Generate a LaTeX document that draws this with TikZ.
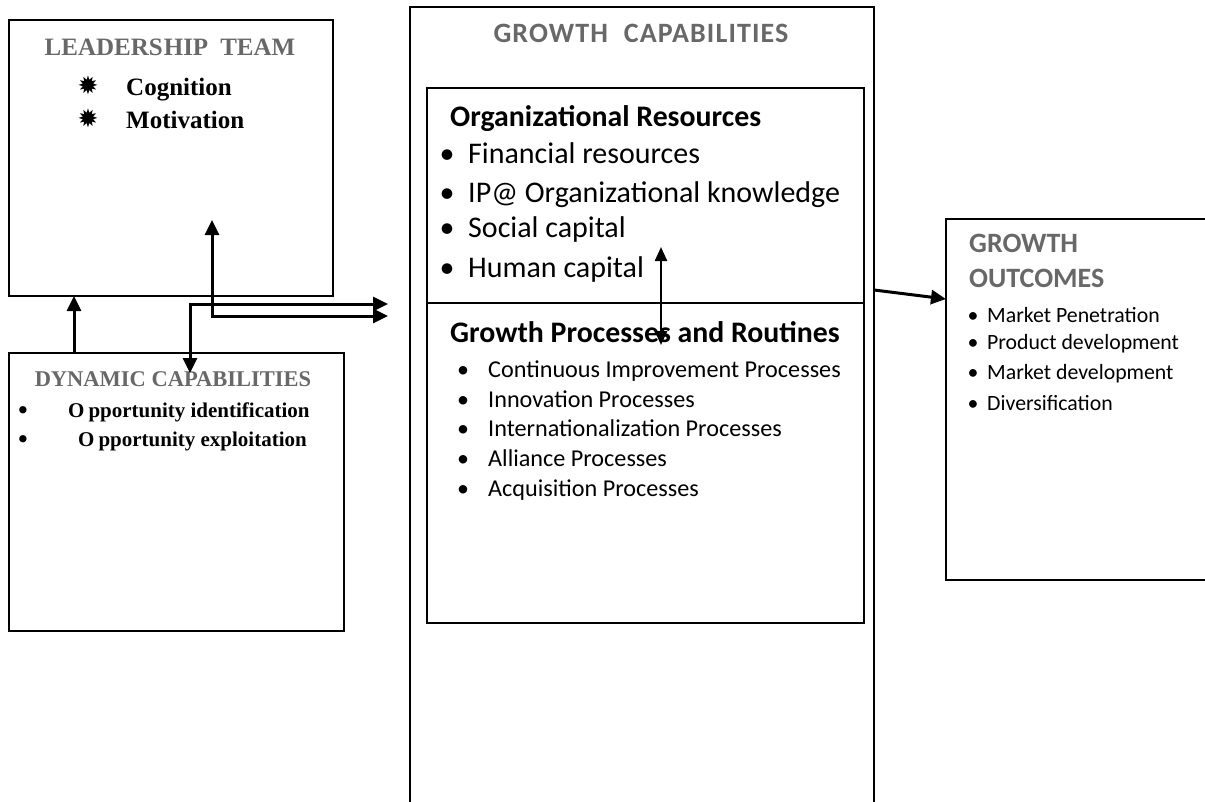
\documentclass[tikz,border=0pt]{standalone}
\usepackage{fontspec}
\usetikzlibrary{arrows.meta}
\newfontfamily\tnrfont{Liberation Serif}
\newfontfamily\calfont{Carlito}
\newfontfamily\calwide{Carlito}[LetterSpace=4]
\newfontfamily\symfont{DejaVu Sans}
\definecolor{titlegray}{RGB}{104,104,104}
\newcommand{\fsz}[1]{\fontsize{#1}{#1}\selectfont}

\tikzset{
  box/.style={draw, line width=2.6pt, anchor=north west, inner sep=0pt, outer sep=0pt},
  outerbox/.style={box, line width=2.2pt},
  txt/.style={inner sep=0pt, anchor=base west},
  ctxt/.style={inner sep=0pt, anchor=base},
  dot/.style={inner sep=0pt, anchor=center},
  serifttl/.style={ctxt, text=titlegray, font=\tnrfont\bfseries\fsz{25}},
  serifitem/.style={txt, font=\tnrfont\bfseries\fsz{25}},
  dynitem/.style={txt, font=\tnrfont\bfseries\fsz{21}},
  calttl/.style={ctxt, text=titlegray, font=\calwide\bfseries\fsz{28}},
  calhead/.style={txt, font=\calfont\bfseries\fsz{29.8}},
  resitem/.style={txt, font=\calfont\fsz{30}},
  procitem/.style={txt, font=\calfont\fsz{24.2}},
  outttl/.style={txt, text=titlegray, font=\calfont\bfseries\fsz{28}},
  outitem/.style={txt, font=\calfont\fsz{21.8}},
  arr/.style={line width=3pt, -{Triangle[length=15pt,width=14pt]}},
  dblarr/.style={line width=3pt, {Triangle[length=15pt,width=14pt]}-{Triangle[length=15pt,width=14pt]}},
  thinarr/.style={line width=2.4pt, {Triangle[length=14pt,width=12pt]}-{Triangle[length=14pt,width=12pt]}}
}

\begin{document}
\begin{tikzpicture}[x=1pt, y=-1pt]
\useasboundingbox (0,0) rectangle (1205,801);
\fill[white] (0,0) rectangle (1205,801);
\clip (0,0) rectangle (1205,801);

% ---- boxes ----
\node[box, minimum width=324pt, minimum height=276pt] (lead) at (9,20) {};
\node[box, minimum width=335pt, minimum height=278pt] (dyn) at (9,353) {};
\node[outerbox, minimum width=464pt, minimum height=830pt] (gcap) at (410,7) {};
\node[box, minimum width=437pt, minimum height=215pt] (orgres) at (427,88) {};
\node[box, minimum width=437pt, minimum height=320pt] (gproc) at (427,303) {};
\node[box, minimum width=290pt, minimum height=361pt] (gout) at (946,219) {};

% ---- leadership team ----
\node[serifttl] (leadttl) at (170,55) {LEADERS\kern1pt HIP\hspace{12pt}TEAM};
\node[dot, font=\symfont\fsz{25}] (star1) at (88,85) {✹};
\node[dot, font=\symfont\fsz{25}] (star2) at (88,118) {✹};
\node[serifitem] (cog) at (126,95) {Cognition};
\node[serifitem] (mot) at (126,128) {Motivation};

% ---- dynamic capabilities ----
\node[serifttl, font=\tnrfont\bfseries\fsz{22.5}] (dynttl) at (173,386) {DYNAMIC CAPABILITIES};
\node[ctxt, font=\symfont\fsz{25}] (db1) at (23,419) {•};
\node[ctxt, font=\symfont\fsz{25}] (db2) at (23,448) {•};
\node[dynitem] (oid) at (68,417) {O\kern4pt pportunity identification};
\node[dynitem] (oex) at (78,446) {O\kern4pt pportunity exploitation};

% ---- growth capabilities ----
\node[calttl] (gcapttl) at (641,42) {GROWTH\hspace{16pt}CAPABILITIES};
\node[calhead] (orghead) at (450,126) {Organizational Resources};
\foreach \yy/\lbl [count=\i] in {163/Financial resources, 202/IP@ Organizational knowledge, 237/Social capital, 277/Human capital}{
  \node[ctxt, font=\calfont\fsz{30}] (rb\i) at (447,\yy) {•};
  \node[resitem] (ri\i) at (468,\yy) {\lbl};
}
\node[calhead] (prochead) at (450,342) {Growth Processes and Routines};
\foreach \yy/\lbl [count=\i] in {377/Continuous Improvement Processes, 407/Innovation Processes, 436/Internationalization Processes, 466/Alliance Processes, 496/Acquisition Processes}{
  \node[ctxt, font=\calfont\fsz{24}] (pb\i) at (463,\yy) {•};
  \node[procitem] (pi\i) at (488,\yy) {\lbl};
}

% ---- growth outcomes ----
\node[outttl] (goutttl1) at (969,252) {GROWTH};
\node[outttl] (goutttl2) at (969,287) {OUTCOMES};
\foreach \yy/\lbl [count=\i] in {322/Market Penetration, 349/Product development, 379/Market development, 410/Diversification}{
  \node[ctxt, font=\calfont\fsz{21.8}] (ob\i) at (973,\yy) {•};
  \node[outitem] (oi\i) at (987,\yy) {\lbl};
}

% ---- connectors ----
\coordinate (upx) at (74,0);
\draw[arr] (dyn.north -| upx) -- (lead.south -| upx);

\coordinate (bTop) at (212,220);
\coordinate (bEnd) at (388,316);
\draw[dblarr] (bTop) |- (bEnd);

\coordinate (aLow) at (190,373);
\coordinate (aEnd) at (388,304);
\draw[dblarr] (aLow) |- (aEnd);

\coordinate (midTop) at (661,247);
\coordinate (midLow) at (661,345);
\draw[thinarr] (midTop) -- (midLow);

\coordinate (outA) at (0,290);
\coordinate (outB) at (0,299);
\draw[arr] (gcap.north east |- outA) -- (gout.north west |- outB);
\end{tikzpicture}
\end{document}
